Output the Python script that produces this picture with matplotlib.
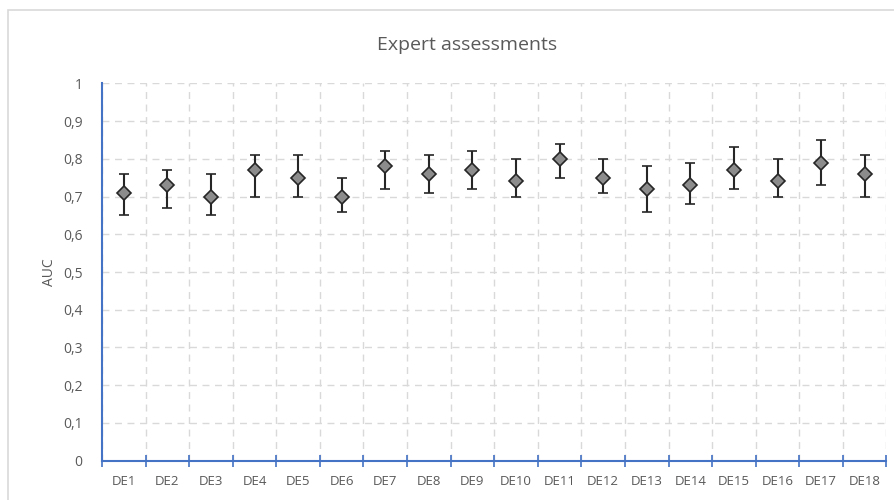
import matplotlib.pyplot as plt
import numpy as np
from matplotlib.patches import Rectangle
from matplotlib.ticker import FixedLocator

categories = [f"DE{i}" for i in range(1, 19)]
auc = [0.71, 0.73, 0.70, 0.77, 0.75, 0.70, 0.78, 0.76, 0.77,
       0.74, 0.80, 0.75, 0.72, 0.73, 0.77, 0.74, 0.79, 0.76]
upper = [0.76, 0.77, 0.76, 0.81, 0.81, 0.75, 0.82, 0.81, 0.82,
         0.80, 0.84, 0.80, 0.78, 0.79, 0.83, 0.80, 0.85, 0.81]
lower = [0.65, 0.67, 0.65, 0.70, 0.70, 0.66, 0.72, 0.71, 0.72,
         0.70, 0.75, 0.71, 0.66, 0.68, 0.72, 0.70, 0.73, 0.70]
y_ticks = [0, 0.1, 0.2, 0.3, 0.4, 0.5, 0.6, 0.7, 0.8, 0.9, 1]

plt.rcParams["font.family"] = ["Open Sans", "DejaVu Sans"]
text_color = "#595959"
axis_blue = "#4472C4"

fig = plt.figure(figsize=(8.95, 5.0), dpi=100)
# chart frame, cut off by the right and bottom edges
fig.patches.append(Rectangle((8 / 895, -0.1), 1.1, 1.08,
                             transform=fig.transFigure, fill=False,
                             edgecolor="#D9D9D9", linewidth=1.2))
ax = fig.add_axes([102 / 895, 1 - 460.7 / 500, 784.5 / 895, (460.7 - 83.3) / 500])

x = np.arange(len(categories))
auc_arr = np.array(auc)
err = [auc_arr - np.array(lower), np.array(upper) - auc_arr]
ax.errorbar(x, auc_arr, yerr=err, fmt="D", color="#262626", ecolor="#262626",
            elinewidth=1.5, capsize=3.5, capthick=2.2, markersize=7,
            markerfacecolor="#8C8C8C", markeredgecolor="#262626",
            markeredgewidth=1.2, zorder=3)

ax.set_xlim(-0.5, len(categories) - 0.5)
ax.set_ylim(0, 1)
ax.set_xticks(x)
ax.set_xticklabels(categories)
ax.xaxis.set_minor_locator(FixedLocator(np.arange(-0.5, len(categories), 1.0)))
ax.tick_params(axis="x", which="major", length=0, pad=10, labelsize=9.5, labelcolor=text_color)
ax.tick_params(axis="x", which="minor", length=8, direction="inout", color=axis_blue, width=1.2)
ax.set_yticks(y_ticks)
ax.set_yticklabels([f"{v:g}".replace(".", ",") for v in y_ticks])
ax.tick_params(axis="y", length=0, pad=14, labelsize=10, labelcolor=text_color)

ax.grid(True, which="minor", axis="x", color="#D9D9D9", linestyle=(0, (5, 4)), linewidth=1)
ax.grid(True, which="major", axis="y", color="#D9D9D9", linestyle=(0, (5, 4)), linewidth=1)
ax.set_axisbelow(True)

for side in ["top", "right"]:
    ax.spines[side].set_visible(False)
for side in ["left", "bottom"]:
    ax.spines[side].set_color(axis_blue)
    ax.spines[side].set_linewidth(1.5)

ax.set_ylabel("AUC", fontsize=10, color=text_color, labelpad=4)
fig.text(467 / 895, 1 - 45 / 500, "Expert assessments", ha="center", va="center",
         fontsize=14, color=text_color)

fig.savefig("out.png", dpi=100)
